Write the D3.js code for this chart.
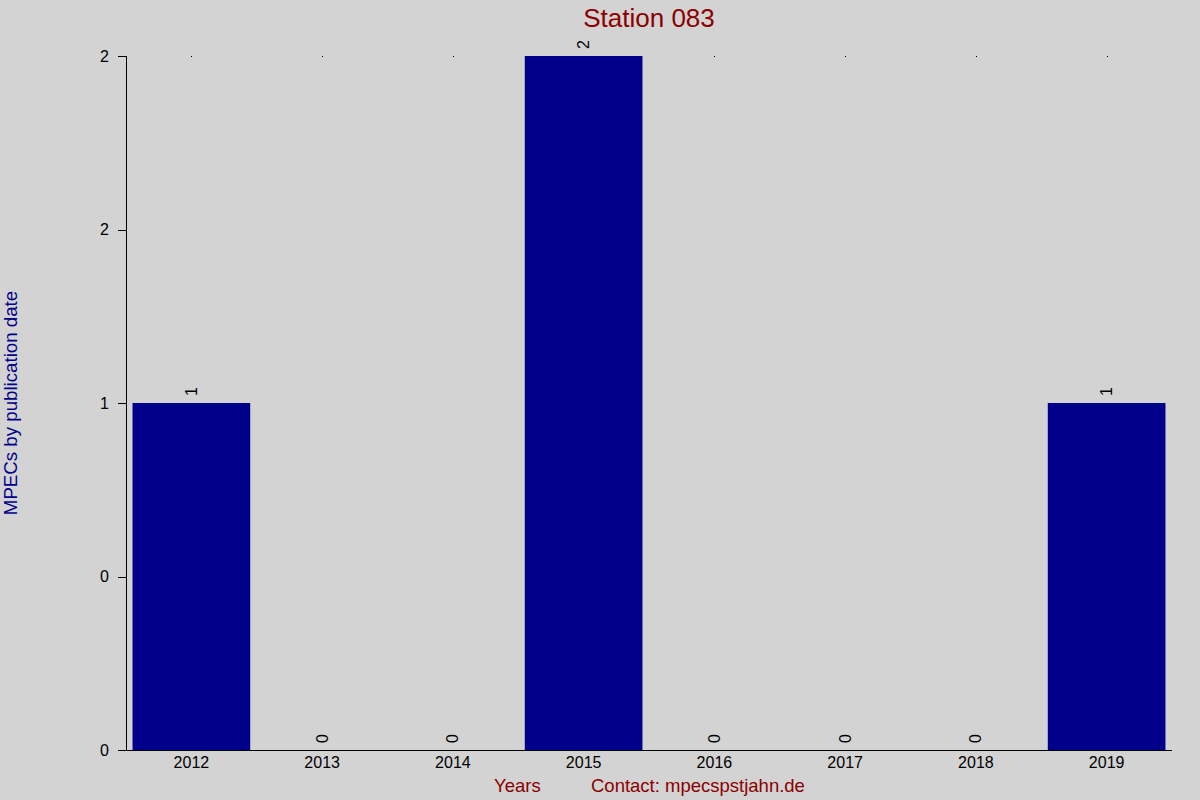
<html>
  <head>
    <script src="https://d3js.org/d3.v7.min.js"></script>
  </head>
  <style type="text/css">
    body { margin: 0; background: #d3d3d3; }
    svg { font-family: "Liberation Sans", Arial, sans-serif; }
    .axis path, .axis line { stroke: #000; shape-rendering: crispEdges; }
  </style>
  <body>
    <div id="chart"></div>
  </body>
  <script type="text/javascript">
    var years = ["2012", "2013", "2014", "2015", "2016", "2017", "2018", "2019"];
    var counts = [1, 0, 0, 2, 0, 0, 0, 1];
    var yTicks = [0, 0.5, 1, 1.5, 2];
    var yTickLabels = ["0", "0", "1", "2", "2"];

    var width = 1200;
    var height = 800;
    var plotLeft = 126, plotRight = 1172, plotTop = 56, plotBottom = 750;

    var svg = d3.select("#chart").append("svg")
      .attr("width", width)
      .attr("height", height)
      .style("background", "#d3d3d3");

    /* Scale */
    var xScale = d3.scaleBand()
      .domain(years)
      .range([plotLeft, plotRight])
      .paddingInner(0.1)
      .paddingOuter(0.05);

    var yScale = d3.scaleLinear()
      .domain([0, 2])
      .range([plotBottom, plotTop]);

    /* Bars */
    svg.append("g").selectAll("rect")
      .data(years).enter()
      .append("rect")
      .attr("x", d => xScale(d))
      .attr("width", xScale.bandwidth())
      .attr("y", (d, i) => yScale(counts[i]))
      .attr("height", (d, i) => plotBottom - yScale(counts[i]))
      .attr("fill", "#00008b");

    /* value labels */
    svg.append("g").selectAll("text")
      .data(years).enter()
      .append("text")
      .attr("transform", (d, i) => `translate(${xScale(d) + xScale.bandwidth() / 2}, ${yScale(counts[i]) - 7}) rotate(-90)`)
      .attr("dy", "0.35em")
      .attr("font-size", "16px")
      .attr("fill", "#000")
      .text((d, i) => counts[i]);

    /* little top marks */
    svg.append("g").selectAll("rect")
      .data(years).enter()
      .append("rect")
      .attr("x", d => Math.round(xScale(d) + xScale.bandwidth() / 2))
      .attr("y", plotTop)
      .attr("width", 1)
      .attr("height", 1)
      .attr("fill", "#000");

    /* Axis */
    var yAxis = d3.axisLeft(yScale)
      .tickValues(yTicks)
      .tickSize(8)
      .tickPadding(9)
      .tickFormat((d, i) => yTickLabels[i]);

    var gy = svg.append("g")
      .attr("class", "axis")
      .attr("transform", `translate(${plotLeft}, 0)`)
      .call(yAxis);
    gy.select(".domain").attr("d", `M0,${plotTop}V${plotBottom}`);
    gy.selectAll("text").attr("font-size", "16px").attr("fill", "#000").attr("font-family", "Liberation Sans, Arial, sans-serif");

    var xAxis = d3.axisBottom(xScale).tickSize(0).tickPadding(7);
    var gx = svg.append("g")
      .attr("class", "axis")
      .attr("transform", `translate(0, ${plotBottom})`)
      .call(xAxis);
    gx.select(".domain").attr("d", `M${plotLeft - 8},0H${plotRight}`);
    gx.selectAll("text").attr("font-size", "16px").attr("fill", "#000").attr("font-family", "Liberation Sans, Arial, sans-serif");

    /* Titles */
    svg.append("text")
      .attr("x", 649)
      .attr("y", 27)
      .attr("text-anchor", "middle")
      .attr("font-size", "26px")
      .attr("fill", "#8b0000")
      .text("Station 083");

    svg.append("text")
      .attr("transform", "translate(17, 403) rotate(-90)")
      .attr("text-anchor", "middle")
      .attr("font-size", "18.7px")
      .attr("fill", "#00008b")
      .text("MPECs by publication date");

    svg.append("text")
      .attr("x", 494)
      .attr("y", 792)
      .attr("font-size", "18.5px")
      .attr("fill", "#8b0000")
      .text("Years");

    svg.append("text")
      .attr("x", 591)
      .attr("y", 792)
      .attr("font-size", "18.5px")
      .attr("fill", "#8b0000")
      .text("Contact: mpecspstjahn.de");
  </script>
</html>
